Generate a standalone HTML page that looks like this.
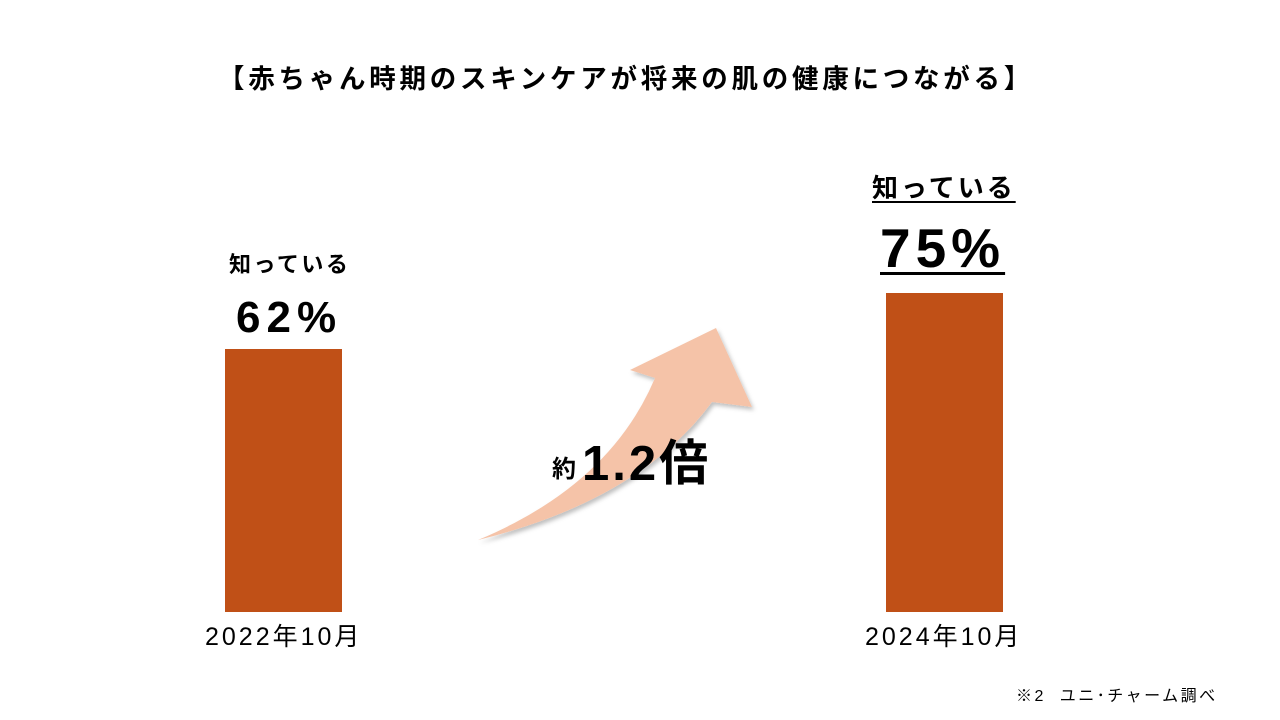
<!DOCTYPE html>
<html><head><meta charset="utf-8"><style>
body{margin:0;width:1280px;height:720px;background:#fff;position:relative;overflow:hidden;font-family:"Liberation Sans","Noto Sans CJK JP",sans-serif;color:#000}
.t{position:absolute;white-space:nowrap;line-height:1}
.bar{position:absolute;background:#C05017}
</style></head><body>
<div class="t" style="left:218px;top:66px;font-size:26.5px;font-weight:bold;letter-spacing:3.75px">【赤ちゃん時期のスキンケアが将来の肌の健康につながる】</div>
<div class="bar" style="left:225px;top:349px;width:117px;height:263px"></div>
<div class="bar" style="left:886px;top:293px;width:117px;height:319px"></div>
<div class="t" style="left:229px;top:254px;font-size:22px;font-weight:bold;letter-spacing:2.5px">知っている</div>
<div class="t" style="left:236px;top:296px;font-size:44px;font-weight:bold;letter-spacing:6px">62%</div>
<div class="t" style="left:872px;top:175px;font-size:26px;font-weight:bold;letter-spacing:3px;text-decoration:underline;text-underline-offset:4px">知っている</div>
<div class="t" style="left:880px;top:221px;font-size:55px;font-weight:bold;letter-spacing:5px;text-decoration:underline;text-underline-offset:5px;text-decoration-thickness:3px">75%</div>
<div class="t" style="left:205px;top:625px;font-size:25px;letter-spacing:3px">2022年10月</div>
<div class="t" style="left:865px;top:625px;font-size:25px;letter-spacing:3px">2024年10月</div>
<svg style="position:absolute;left:0;top:0" width="1280" height="720">
<defs><filter id="s"><feDropShadow dx="2" dy="3" stdDeviation="2" flood-color="#000" flood-opacity="0.25"/></filter></defs>
<path d="M478,540 Q640,500 712,402 L752,407 L716,328 L630,370 L655,378 Q610,485 478,540 Z" fill="#F5C3A8" filter="url(#s)"/>
</svg>
<div class="t" style="left:552px;top:458px;font-size:24px;font-weight:bold">約</div>
<div class="t" style="left:582px;top:440px;font-size:49px;font-weight:bold;letter-spacing:3px">1.2倍</div>
<div class="t" style="left:1016px;top:689px;font-size:16px;letter-spacing:2.5px">※2&nbsp;&nbsp;ユニ･チャーム調べ</div>
</body></html>
